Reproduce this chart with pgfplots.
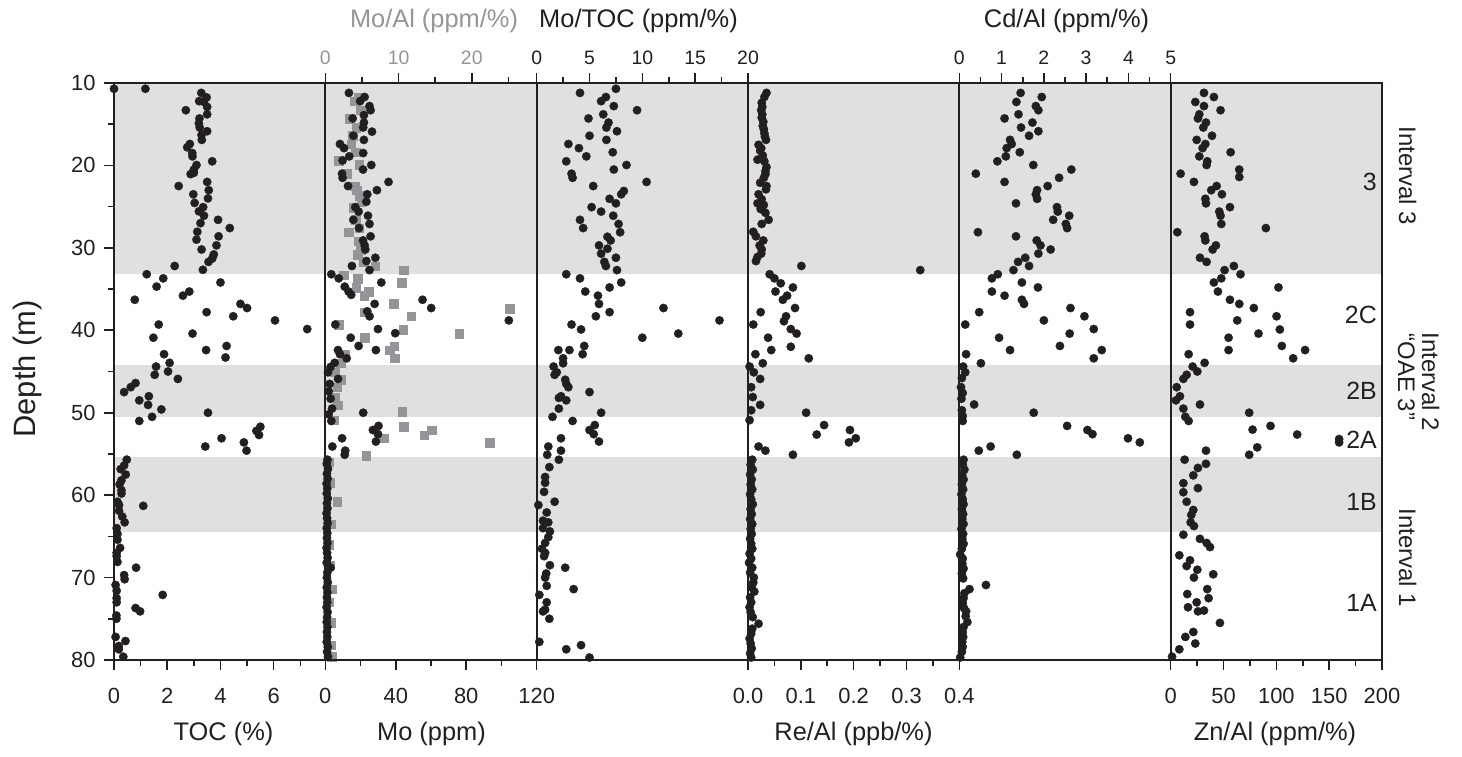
\documentclass[border=0pt]{standalone}
\usepackage{fontspec}
\setmainfont{Liberation Sans}
\usepackage{pgfplots}
\pgfplotsset{compat=1.18}

\definecolor{ink}{RGB}{35,31,32}
\definecolor{band}{RGB}{224,224,224}
\definecolor{moal}{RGB}{147,149,152}

\newcommand\ticksize{\fontsize{22}{24}\selectfont}
\newcommand\toptick{\fontsize{19.5}{22}\selectfont}
\newcommand\titlesize{\fontsize{25.5}{28}\selectfont}

\pgfplotsset{
  panel/.style={
    scale only axis, width=211.33bp, height=577bp, anchor=south west,
    ymin=10, ymax=80, y dir=reverse, ytick=\empty,
    axis line style={line width=2.2bp, ink},
    tick style={line width=1.6bp, ink},
    tick align=outside, major tick length=10bp, minor tick length=6bp,
    clip=false,
    /pgf/number format/assume math mode=true,
    tick label style={font=\ticksize, text=ink},
  },
  bot/.style={xtick pos=left, xticklabel style={yshift=-15bp}},
  top/.style={xtick pos=right, xticklabel pos=right, xticklabel style={font=\toptick, yshift=5bp}},
  dots/.style={only marks, mark=*, mark size=4.2bp, ink, mark options={line width=0.3bp}},
  squares/.style={only marks, mark=square*, mark size=4.3bp, moal, mark options={line width=0.3bp}},
}

\begin{document}
\begin{tikzpicture}
\useasboundingbox (0,0) rectangle (1462bp,757bp);

% background: depth axis and shaded intervals
\begin{axis}[
  scale only axis, width=1268bp, height=577bp, at={(114bp,97bp)}, anchor=south west,
  xmin=0, xmax=1, ymin=10, ymax=80, y dir=reverse, axis on top,
  xtick=\empty, ytick={10,20,...,80}, minor ytick={15,25,...,75}, ytick pos=left,
  axis line style={line width=2.2bp, ink},
  tick style={line width=1.6bp, ink},
  tick align=outside, major tick length=10bp, minor tick length=6bp,
  /pgf/number format/assume math mode=true,
  tick label style={font=\ticksize, text=ink},
  yticklabel style={xshift=-5bp},
]
\addplot[fill=band, draw=none] coordinates {(0,10) (1,10) (1,33.2) (0,33.2)} -- cycle;
\addplot[fill=band, draw=none] coordinates {(0,44.2) (1,44.2) (1,50.5) (0,50.5)} -- cycle;
\addplot[fill=band, draw=none] coordinates {(0,55.4) (1,55.4) (1,64.5) (0,64.5)} -- cycle;
\end{axis}

% TOC
\begin{axis}[panel, bot, at={(114bp,97bp)}, xmin=0, xmax=7.94,
  xtick={0,2,4,6}, minor xtick={1,3,5,7}]
\addplot[dots] coordinates {
(0,10.7) (1.18,10.7) (3.28,11.2) (3.48,11.75) (3.2,12.2) (3.38,12.3) (3.5,12.9) (2.7,13.3)
(3.5,13.8) (3.21,14.3) (3.19,14.9) (3.22,15.4) (3.5,15.85) (3.29,16.3) (3.3,16.9) (2.85,17.4)
(2.75,17.8) (2.94,18.5) (2.95,18.9) (3.69,19.5) (3.1,19.95) (3.0,20.5) (3.0,20.9) (2.88,21.05)
(3.5,22.0) (2.43,22.5) (3.56,23.0) (2.98,23.5) (3.53,24.0) (3.03,24.55) (3.35,25.06) (3.19,25.57)
(3.38,26.1) (3.91,26.6) (3.25,27.0) (4.35,27.6) (3.13,28.05) (3.93,28.6) (3.1,29.0) (3.85,29.7)
(3.29,30.2) (3.75,30.8) (3.69,31.3) (3.55,31.7) (2.28,32.2) (3.34,32.66) (1.23,33.2) (1.85,33.7)
(4.0,34.2) (1.6,34.7) (2.83,35.3) (2.59,35.8) (0.78,36.3) (4.75,36.8) (5.0,37.3) (3.48,37.8)
(4.48,38.3) (6.05,38.8) (1.68,39.3) (7.26,39.85) (2.95,40.4) (1.48,40.9) (4.23,41.9) (3.46,42.4)
(1.88,42.9) (4.19,43.3) (2.09,43.95) (1.58,44.4) (2.03,45.0) (1.53,45.4) (2.4,45.9) (0.81,46.4)
(0.63,46.9) (0.38,47.5) (1.31,48.0) (0.95,48.5) (1.28,49.05) (1.78,49.6) (3.53,50.0) (1.43,50.5)
(0.95,51.0) (5.5,51.7) (5.35,52.2) (5.45,52.7) (4.04,53.1) (4.88,53.6) (3.43,54.1) (4.98,54.6)
(0.48,55.69) (0.38,56.4) (0.25,56.84) (0.44,57.5) (0.28,58.2) (0.21,58.7) (0.28,59.4) (0.28,59.8)
(0.13,60.8) (0.19,61.2) (1.1,61.3) (0.19,61.9) (0.31,62.6) (0.4,63.3) (0.1,64.0) (0.13,64.7)
(0.13,65.4) (0.23,66.4) (0.1,67.0) (0.1,67.4) (0.13,68.1) (0.83,68.8) (0.38,69.7) (0.4,70.2)
(0.06,70.9) (0.1,71.6) (1.83,72.1) (0.1,72.5) (0.1,73.0) (0.81,73.7) (0.98,74.1) (0.09,74.6)
(0.09,75.0) (0.06,77.2) (0.43,77.7) (0.18,78.3) (0.18,78.7) (0.35,79.6)
};
\end{axis}

% Mo/Al (top axis, grey squares)
\begin{axis}[panel, top, at={(325.33bp,97bp)}, xmin=0, xmax=28.86,
  xtick={0,10,20}, minor xtick={5,15,25}, xticklabel style={text=moal}]
\addplot[squares] coordinates {
(4.5,11.7) (4.0,12.2) (4.8,13.3) (3.3,14.3) (4.2,15.4) (3.7,16.4) (3.5,17.4) (4.1,18.4)
(1.8,19.4) (4.6,19.9) (3.0,21.0) (4.0,22.5) (4.3,23.0) (4.7,23.7) (4.9,24.4) (3.9,25.1)
(4.1,26.6) (4.6,27.6) (3.2,28.1) (4.5,29.2) (4.8,30.2) (4.4,30.8) (5.2,31.7) (6.8,32.2)
(10.7,32.7) (2.5,33.3) (4.4,33.7) (10.4,34.2) (4.2,34.8) (5.9,35.3) (5.3,35.8) (9.3,36.8)
(25.2,37.4) (5.4,37.8) (11.7,38.3) (1.8,39.3) (10.6,39.9) (18.3,40.4) (5.4,40.9) (9.4,41.9)
(8.8,42.4) (2.7,42.9) (9.5,43.4) (2.1,44.0) (1.3,45.1) (2.1,46.0) (1.6,46.9) (1.3,48.1)
(1.7,49.1) (10.5,49.9) (1.1,50.9) (10.7,51.7) (14.5,52.1) (13.5,52.7) (8.0,53.1) (22.4,53.6)
(5.6,55.2) (0.5,56.0) (0.6,58.5) (1.6,60.8) (0.7,63.5) (0.5,66.0) (0.6,68.5) (0.9,71.4)
(0.5,73.0) (0.8,75.5) (0.75,78.2) (0.9,79.6)
};
\end{axis}

% Mo (bottom axis, black dots)
\begin{axis}[panel, bot, at={(325.33bp,97bp)}, xmin=0, xmax=120,
  xtick={0,40,80,120}, minor xtick={20,60,100}]
\addplot[dots] coordinates {
(13.4,11.2) (22.3,11.7) (19.8,12.2) (25.1,12.8) (25.7,13.3) (21.9,13.9) (15.5,14.3) (21.9,14.8)
(21.5,15.4) (26.5,15.9) (15.9,16.4) (21.9,16.9) (8.3,17.4) (10.6,17.9) (21.5,18.5) (13.6,18.9)
(9.8,19.4) (26.1,19.95) (21.4,20.5) (9.5,21.0) (9.8,21.5) (35.9,22.0) (12.9,22.5) (29.3,23.0)
(23.8,23.5) (23.3,24.4) (17.0,25.06) (18.9,25.6) (24.2,26.1) (15.9,26.6) (25.1,27.1) (19.1,27.6)
(25.7,28.6) (21.4,29.1) (22.3,29.7) (22.7,30.2) (28.4,31.2) (23.3,31.6) (15.1,32.2) (25.1,32.7)
(3.4,33.2) (7.6,33.7) (31.8,34.2) (11.0,34.7) (13.2,35.3) (14.7,35.7) (55.2,36.3) (28.0,36.8)
(60.1,37.3) (23.8,37.7) (25.1,38.3) (104.2,38.8) (5.7,39.3) (29.9,39.85) (39.7,40.35) (14.4,40.9)
(18.9,41.9) (7.2,42.4) (28.7,42.4) (8.3,42.9) (12.1,43.4) (5.3,43.95) (3.0,44.45) (1.5,45.1)
(7.2,45.9) (2.5,46.5) (1.9,47.4) (3.0,48.3) (3.8,49.5) (21.5,50.0) (1.9,50.2) (3.4,51.0)
(30.2,51.6) (27.0,52.1) (29.9,52.6) (9.5,53.1) (28.7,53.5) (4.0,54.1) (11.3,54.6) (11.0,55.1)
(1.2,55.7) (0.8,56.2) (1.5,56.8) (0.9,57.4) (1.3,58.0) (0.7,58.6) (1.1,59.2) (0.8,59.8)
(1.4,60.4) (0.9,61.0) (1.2,61.6) (0.7,62.2) (1.0,62.8) (1.3,63.4) (0.8,64.0) (1.1,64.6)
(0.9,65.2) (1.2,65.8) (0.7,66.4) (1.0,67.0) (1.3,67.6) (0.8,68.2) (3.0,68.8) (1.1,69.4)
(0.9,70.0) (1.4,70.6) (0.8,71.2) (1.2,71.8) (0.9,72.4) (1.1,73.0) (0.7,73.6) (1.3,74.2)
(1.0,74.8) (0.8,75.4) (1.2,76.0) (0.9,76.6) (1.1,77.2) (0.8,77.8) (1.4,78.4) (1.0,79.0) (1.5,79.6)
};
\end{axis}

% Mo/TOC
\begin{axis}[panel, top, at={(536.67bp,97bp)}, xmin=0, xmax=20,
  xtick={0,5,10,15,20}, minor xtick={2.5,7.5,12.5,17.5}]
\addplot[dots] coordinates {
(7.5,10.7) (4.1,11.2) (6.55,11.7) (6.1,12.2) (7.3,12.8) (9.5,13.3) (6.3,13.8) (4.9,14.3)
(6.8,14.8) (6.6,15.4) (7.6,15.85) (5.0,16.4) (6.6,16.9) (3.0,17.4) (4.0,17.9) (7.2,18.4)
(4.7,18.9) (2.8,19.5) (8.5,19.95) (7.3,20.5) (3.3,21.0) (3.4,21.5) (10.4,22.0) (5.35,22.5)
(8.25,23.1) (8.0,23.5) (6.9,24.05) (7.5,24.6) (5.2,25.06) (6.1,25.6) (7.25,26.1) (4.1,26.6)
(7.75,27.1) (4.4,27.6) (7.9,28.1) (6.7,28.65) (7.0,29.1) (5.9,29.7) (6.7,30.1) (6.1,30.7)
(7.5,31.2) (6.4,31.7) (6.55,32.2) (7.6,32.7) (2.8,33.2) (4.1,33.7) (8.0,34.2) (6.9,34.8)
(4.6,35.3) (5.8,35.8) (5.9,36.8) (12.0,37.3) (6.9,37.8) (5.6,38.3) (17.3,38.8) (3.3,39.3)
(4.2,39.9) (13.4,40.4) (10.0,40.9) (4.5,41.9) (2.05,42.4) (3.1,42.4) (4.35,42.9) (2.5,43.4)
(2.5,44.0) (1.6,44.4) (1.9,45.1) (1.7,45.4) (2.7,46.0) (2.8,46.5) (3.0,46.9) (5.0,47.5)
(2.3,48.0) (2.1,48.2) (2.8,48.5) (2.1,49.5) (6.1,50.0) (1.5,50.5) (3.4,51.0) (5.5,51.5)
(5.0,52.1) (5.4,52.6) (2.3,53.1) (5.9,53.5) (1.1,54.1) (2.3,54.6) (1.0,55.1) (2.1,55.7)
(1.2,56.6) (0.8,57.8) (0.8,58.5) (0.7,59.6) (1.7,60.8) (0.16,61.2) (0.95,62.1) (0.6,63.1)
(1.1,63.3) (0.6,64.0) (1.25,64.4) (1.1,65.1) (0.8,65.8) (0.5,66.5) (0.8,67.0) (0.7,67.4)
(1.25,68.5) (2.7,68.8) (0.9,69.5) (0.8,70.0) (0.95,71.0) (3.5,71.4) (0.25,72.1) (0.95,73.0)
(0.8,73.9) (0.6,74.1) (1.2,75.0) (0.25,77.8) (4.2,78.2) (2.8,78.7) (5.0,79.7)
};
\end{axis}

% Re/Al
\begin{axis}[panel, bot, at={(748bp,97bp)}, xmin=0, xmax=0.4,
  xtick={0,0.1,0.2,0.3,0.4}, minor xtick={0.05,0.15,0.25,0.35},
  xticklabel style={/pgf/number format/.cd, fixed, fixed zerofill, precision=1}]
\addplot[dots] coordinates {
(0.035,11.2) (0.031,11.7) (0.026,12.4) (0.027,12.9) (0.025,13.3) (0.027,13.8) (0.026,14.2)
(0.029,14.7) (0.028,15.2) (0.030,15.6) (0.031,16.1) (0.032,16.5) (0.034,16.9) (0.020,17.5)
(0.025,17.9) (0.023,18.2) (0.028,18.8) (0.018,19.3) (0.031,19.5) (0.035,20.2) (0.033,20.7)
(0.033,21.05) (0.030,21.5) (0.023,22.1) (0.035,22.5) (0.034,22.9) (0.020,23.5) (0.026,24.1)
(0.018,24.6) (0.030,24.8) (0.024,25.3) (0.033,25.75) (0.039,26.6) (0.026,27.1) (0.010,28.05)
(0.015,28.6) (0.029,29.1) (0.022,29.7) (0.026,30.2) (0.025,30.7) (0.018,31.1) (0.015,31.6)
(0.101,32.2) (0.326,32.7) (0.041,33.2) (0.050,33.7) (0.062,34.3) (0.085,34.8) (0.052,35.3)
(0.074,35.8) (0.066,36.3) (0.089,37.3) (0.024,37.8) (0.072,38.3) (0.068,38.9) (0.010,39.3)
(0.081,39.85) (0.092,40.4) (0.038,40.9) (0.081,42.0) (0.044,42.4) (0.014,42.9) (0.115,43.4)
(0.028,44.0) (0.003,44.4) (0.011,45.1) (0.023,45.9) (0.006,46.9) (0.009,48.1) (0.023,49.05)
(0.006,49.7) (0.110,50.0) (0.003,50.9) (0.144,51.5) (0.193,52.1) (0.130,52.65) (0.204,53.1)
(0.191,53.6) (0.020,54.1) (0.033,54.6) (0.085,55.1)
(0.008,55.7) (0.005,56.3) (0.009,56.9) (0.004,57.5) (0.007,58.1) (0.005,58.7) (0.008,59.3)
(0.004,59.9) (0.006,60.5) (0.009,61.1) (0.005,61.7) (0.007,62.3) (0.004,62.9) (0.008,63.5)
(0.005,64.1) (0.007,64.7) (0.004,65.3) (0.006,65.9) (0.008,66.5) (0.003,67.1) (0.006,67.7)
(0.002,68.2) (0.008,68.8) (0.004,69.4) (0.011,70.0) (0.010,70.6) (0.007,71.2) (0.012,71.7)
(0.004,72.4) (0.006,73.0) (0.003,73.6) (0.005,74.2) (0.009,74.8) (0.020,75.6) (0.008,76.2)
(0.006,76.8) (0.003,77.4) (0.005,78.0) (0.007,78.6) (0.004,79.2) (0.006,79.7)
};
\end{axis}

% Cd/Al
\begin{axis}[panel, top, at={(959.33bp,97bp)}, xmin=0, xmax=5,
  xtick={0,1,2,3,4,5}, minor xtick={0.5,1.5,2.5,3.5,4.5}]
\addplot[dots] coordinates {
(1.45,11.2) (1.95,11.7) (1.35,12.3) (1.81,12.8) (1.87,13.3) (1.4,13.8) (1.07,14.3) (1.73,14.8)
(1.46,15.4) (1.87,15.85) (1.65,16.4) (1.2,16.9) (1.24,17.4) (1.12,17.9) (1.43,18.4) (1.1,18.9)
(0.9,19.5) (1.75,19.95) (2.65,20.5) (0.39,21.0) (2.36,21.5) (1.07,22.0) (2.09,22.5) (1.84,23.0)
(1.81,23.5) (1.84,24.05) (1.34,24.6) (2.31,25.06) (2.33,25.6) (2.6,26.1) (2.22,26.6) (2.52,27.1)
(2.55,27.6) (0.44,28.1) (1.34,28.6) (1.83,29.1) (1.92,29.7) (2.16,30.2) (1.87,30.7) (1.56,31.2)
(1.39,31.7) (1.65,32.2) (1.28,32.7) (0.91,33.2) (0.77,33.7) (1.48,34.2) (1.86,34.8) (0.77,35.3)
(1.07,35.8) (1.48,36.3) (1.53,36.8) (2.63,37.3) (0.47,37.8) (2.96,38.3) (2.0,38.8) (0.14,39.3)
(3.18,39.85) (2.61,40.4) (0.94,40.9) (2.38,41.9) (1.2,42.4) (3.37,42.4) (0.16,42.9) (3.18,43.4)
(0.51,44.0) (0.09,44.4) (0.14,45.1) (0.06,45.8) (0.04,46.9) (0.08,47.6) (0.05,48.3) (0.35,49.0)
(0.06,49.7) (1.76,50.0) (0.08,50.4) (0.08,51.0) (2.55,51.6) (3.03,52.1) (3.15,52.6) (3.99,53.1)
(4.27,53.6) (0.74,54.1) (0.46,54.6) (1.36,55.1)
(0.1,55.7) (0.08,56.3) (0.12,56.9) (0.07,57.5) (0.1,58.1) (0.06,58.7) (0.09,59.3) (0.05,59.9)
(0.08,60.5) (0.1,61.1) (0.06,61.7) (0.09,62.3) (0.07,62.9) (0.1,63.5) (0.05,64.1) (0.09,64.7)
(0.07,65.3) (0.1,65.9) (0.06,66.5) (0.02,67.2) (0.08,67.7) (0.07,68.3) (0.1,68.9) (0.06,69.5)
(0.09,70.1) (0.63,70.9) (0.24,71.4) (0.12,71.9) (0.1,72.5) (0.08,73.1) (0.11,73.7) (0.16,74.1)
(0.15,74.7) (0.19,75.4) (0.1,76.0) (0.08,76.6) (0.09,77.2) (0.07,77.8) (0.08,78.4) (0.06,79.0)
(0.02,79.7)
};
\end{axis}

% Zn/Al
\begin{axis}[panel, bot, at={(1170.67bp,97bp)}, xmin=0, xmax=200,
  xtick={0,50,100,150,200}, minor xtick={25,75,125,175}]
\addplot[dots] coordinates {
(31.5,11.2) (40.9,11.7) (23.3,12.3) (31.5,12.8) (47.2,13.3) (27.1,13.8) (25.8,14.3) (33.4,14.8)
(30.9,15.4) (39.1,16.4) (24.6,16.9) (32.8,17.4) (30.2,17.9) (56.7,18.4) (27.1,18.9) (34.6,19.5)
(34.0,19.95) (64.9,20.5) (9.4,21.0) (64.9,21.4) (22.0,22.0) (43.5,22.5) (38.4,23.0) (48.5,23.5)
(32.8,24.05) (33.4,24.6) (56.1,25.06) (46.0,25.6) (47.2,26.1) (47.9,27.1) (90.1,27.6) (6.3,28.1)
(32.1,28.6) (32.8,29.1) (42.8,29.7) (39.7,30.2) (27.7,31.2) (34.0,31.7) (59.8,32.2) (51.0,32.7)
(66.1,33.2) (47.9,33.7) (40.9,34.2) (102.0,34.8) (44.7,35.3) (56.1,36.3) (64.9,36.8) (78.7,37.3)
(18.3,37.8) (100.2,38.3) (63.0,38.8) (18.3,39.3) (103.3,39.9) (83.1,40.4) (54.8,40.9) (105.2,41.9)
(54.8,42.4) (127.2,42.4) (17.0,42.9) (115.9,43.4) (32.1,43.95) (20.8,44.4) (25.2,45.0) (15.1,45.4)
(12.0,45.9) (5.7,46.9) (8.8,48.0) (5.0,48.5) (27.7,49.0) (12.0,49.5) (74.3,50.0) (13.9,50.5)
(17.0,51.0) (94.5,51.6) (77.5,52.05) (119.7,52.65) (159.4,53.2) (159.4,53.6) (81.9,54.2) (33.4,54.6)
(74.3,55.1) (13.2,55.7) (33.4,56.2) (25.8,56.7) (21.4,57.6) (12.0,58.55) (25.8,59.15) (12.0,59.65)
(15.1,60.8) (21.4,61.8) (19.5,62.4) (18.9,63.3) (22.0,63.75) (12.0,64.8) (27.7,65.3) (34.0,65.8)
(37.2,66.3) (8.2,67.3) (18.3,67.9) (15.1,68.6) (25.2,69.05) (40.3,69.6) (22.0,70.0) (34.6,71.4)
(15.7,72.0) (35.9,72.5) (24.6,73.0) (16.4,73.6) (31.5,74.0) (25.8,74.1) (46.6,75.5) (21.4,76.6)
(13.9,77.2) (23.3,78.0) (8.2,78.7) (1.3,79.6)
};
\end{axis}

% axis titles
\node[font=\titlesize, text=moal, anchor=base] at (434bp,729bp) {Mo/Al (ppm/\%)};
\node[font=\titlesize, text=ink, anchor=base] at (638.5bp,729bp) {Mo/TOC (ppm/\%)};
\node[font=\titlesize, text=ink, anchor=base] at (1066.5bp,729bp) {Cd/Al (ppm/\%)};
\node[font=\titlesize, text=ink, anchor=base] at (223.5bp,17bp) {TOC (\%)};
\node[font=\titlesize, text=ink, anchor=base] at (431.5bp,17bp) {Mo (ppm)};
\node[font=\titlesize, text=ink, anchor=base] at (853.5bp,17bp) {Re/Al (ppb/\%)};
\node[font=\titlesize, text=ink, anchor=base] at (1275bp,17bp) {Zn/Al (ppm/\%)};
\node[font=\fontsize{31}{34}\selectfont, text=ink, rotate=90, anchor=base] at (35bp,388bp) {Depth (m)};

% interval labels
\node[font=\fontsize{24}{26}\selectfont, text=ink, rotate=-90, anchor=base] at (1399bp,581bp) {Interval 3};
\node[font=\fontsize{24}{26}\selectfont, text=ink, rotate=-90, anchor=base] at (1422bp,375bp) {Interval 2};
\node[font=\fontsize{24}{26}\selectfont, text=ink, rotate=-90, anchor=base] at (1398bp,380bp) {“OAE 3”};
\node[font=\fontsize{24}{26}\selectfont, text=ink, rotate=-90, anchor=base] at (1399bp,199bp) {Interval 1};

\node[font=\fontsize{25}{27}\selectfont, text=ink, anchor=base east, inner sep=0pt] at (1377bp,566bp) {3};
\node[font=\fontsize{25}{27}\selectfont, text=ink, anchor=base east, inner sep=0pt] at (1377bp,433bp) {2C};
\node[font=\fontsize{25}{27}\selectfont, text=ink, anchor=base east, inner sep=0pt] at (1377bp,357bp) {2B};
\node[font=\fontsize{25}{27}\selectfont, text=ink, anchor=base east, inner sep=0pt] at (1377bp,308bp) {2A};
\node[font=\fontsize{25}{27}\selectfont, text=ink, anchor=base east, inner sep=0pt] at (1377bp,246bp) {1B};
\node[font=\fontsize{25}{27}\selectfont, text=ink, anchor=base east, inner sep=0pt] at (1377bp,145bp) {1A};
\end{tikzpicture}
\end{document}
